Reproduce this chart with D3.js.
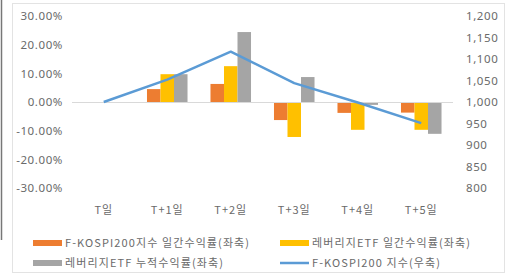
<!DOCTYPE html>
<html><head><meta charset="utf-8">
<script src="https://cdn.jsdelivr.net/npm/d3@7/dist/d3.min.js"></script>
<style>body{margin:0;background:#fff;}svg{display:block;font-family:"Noto Sans CJK KR","Noto Sans",sans-serif;}</style>
</head><body><svg id="c" width="515" height="278"></svg>
<script>
const categories = ["T일","T+1일","T+2일","T+3일","T+4일","T+5일"];
const kospiDaily = [0, 4.5, 6.3, -6.3, -3.8, -3.7];
const levDaily = [0, 9.7, 12.5, -12.2, -9.7, -9.7];
const levCum = [0, 9.7, 24.4, 8.7, -1.0, -11.1];
const kospiIndex = [1000, 1052, 1117, 1044, 999, 951];
const leftTicks = [30,20,10,0,-10,-20,-30];
const rightTicks = [1200,1150,1100,1050,1000,950,900,850,800];
const seriesNames = ["F-KOSPI200지수 일간수익률(좌축)","레버리지ETF 일간수익률(좌축)","레버리지ETF 누적수익률(좌축)","F-KOSPI200 지수(우축)"];
const colors = ["#ED7D31","#FFC000","#A5A5A5","#5B9BD5"];

const svg = d3.select("#c");
svg.append("rect").attr("x",12.5).attr("y",3.5).attr("width",492).attr("height",269)
  .attr("fill","#fff").attr("stroke","#e3e3e3");
svg.append("line").attr("x1",1.5).attr("x2",1.5).attr("y1",0).attr("y2",240)
  .attr("stroke","#777").attr("stroke-width",1.5);

const x = d3.scaleBand().domain(categories).range([72,453]);
const yL = d3.scaleLinear().domain([-30,30]).range([188,16]);
const yR = d3.scaleLinear().domain([800,1200]).range([188,16]);
const sub = d3.scaleBand().domain([0,1,2]).range([0, x.bandwidth()]).paddingInner(0).paddingOuter(0.85);

const txt = "#6a6a6a";
const gl = svg.append("g").attr("transform","translate(63,0)")
  .call(d3.axisLeft(yL).tickValues(leftTicks).tickSize(0).tickPadding(0).tickFormat(d=>d.toFixed(2)+"%"));
gl.select(".domain").remove();
gl.selectAll("text").attr("fill",txt).attr("font-size",11.5).attr("letter-spacing","0.6px").attr("font-family","Noto Sans, sans-serif");
const gr = svg.append("g").attr("transform","translate(466,0)")
  .call(d3.axisRight(yR).tickValues(rightTicks).tickSize(0).tickPadding(0).tickFormat(d3.format(",")));
gr.select(".domain").remove();
gr.selectAll("text").attr("fill",txt).attr("font-size",11.5).attr("letter-spacing","0.6px").attr("font-family","Noto Sans, sans-serif");

const data = [kospiDaily, levDaily, levCum];
data.forEach((arr,si)=>{
  svg.append("g").selectAll("rect").data(arr).join("rect")
    .attr("x",(d,i)=>x(categories[i])+sub(si))
    .attr("width",sub.bandwidth())
    .attr("y",d=>yL(Math.max(0,d)))
    .attr("height",d=>Math.abs(yL(d)-yL(0)))
    .attr("fill",colors[si]);
});
svg.append("line").attr("x1",72).attr("x2",453).attr("y1",yL(0)+0.5).attr("y2",yL(0)+0.5)
  .attr("stroke","#d9d9d9");

const line = d3.line().x((d,i)=>x(categories[i])+x.bandwidth()/2).y(d=>yR(d));
svg.append("path").datum(kospiIndex).attr("d",line).attr("fill","none")
  .attr("stroke",colors[3]).attr("stroke-width",2.5).attr("stroke-linejoin","round");

const gx = svg.append("g").attr("transform","translate(0,206)")
  .call(d3.axisBottom(x).tickSize(0).tickPadding(0));
gx.select(".domain").remove();
gx.selectAll("text").attr("fill",txt).attr("font-size",11).attr("letter-spacing","1px").attr("dy","0.71em")
  .attr("font-family","'Noto Sans CJK KR', sans-serif");

const legPos = [[33,243],[280,243],[33,263],[280,263]];
seriesNames.forEach((n,i)=>{
  const [lx,ly]=legPos[i];
  const g = svg.append("g").attr("transform",`translate(${lx},${ly})`);
  if(i<3) g.append("rect").attr("x",0).attr("y",-3).attr("width",29).attr("height",6).attr("fill",colors[i]);
  else g.append("line").attr("x1",0).attr("x2",29).attr("y1",0).attr("y2",0).attr("stroke",colors[i]).attr("stroke-width",2.5);
  g.append("text").attr("x",32).attr("y",0).attr("dy","0.35em").attr("font-size",11).attr("letter-spacing","1.1px").attr("fill",txt)
    .attr("font-family","'Noto Sans CJK KR', sans-serif").text(n);
});
</script></body></html>
